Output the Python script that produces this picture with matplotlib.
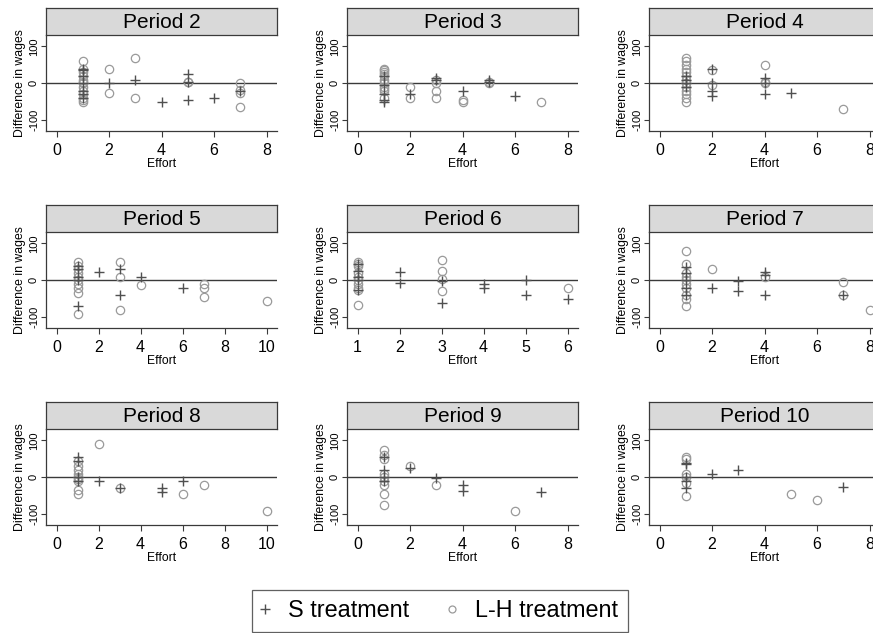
import matplotlib
matplotlib.use("Agg")
import matplotlib.pyplot as plt
from matplotlib.lines import Line2D

plt.rcParams['font.family'] = ['Liberation Sans', 'DejaVu Sans']

# (effort, difference in wages)
s2 = [(1, 40), (1, 35), (1, 20), (1, 0), (1, -20), (1, -30), (1, -40), (2, 0), (3, 10),
      (4, -50), (5, 25), (5, 5), (5, -45), (6, -40), (7, -20)]
lh2 = [(1, 60), (1, 40), (1, 30), (1, 20), (1, 10), (1, 5), (1, 0), (1, -10), (1, -20),
       (1, -30), (1, -40), (1, -45), (1, -50), (2, 40), (2, -25), (3, 70), (3, -40),
       (5, 5), (5, 3), (7, 0), (7, -18), (7, -25), (7, -65)]
s3 = [(1, 20), (1, -5), (1, -30), (1, -45), (1, -50), (2, -30), (3, 15), (3, 10),
      (4, -20), (5, 10), (5, 3), (6, -35)]
lh3 = [(1, 40), (1, 35), (1, 30), (1, 25), (1, 20), (1, 10), (1, 0), (1, -10), (1, -15),
       (1, -20), (1, -40), (2, -10), (2, -40), (3, 10), (3, 0), (3, -20), (3, -40),
       (4, -45), (4, -50), (5, 5), (5, 0), (7, -50)]
s4 = [(1, 20), (1, 10), (1, 0), (1, -10), (2, 40), (2, 0), (2, -20), (2, -35),
      (4, 15), (4, 0), (4, -30), (5, -25)]
lh4 = [(1, 70), (1, 60), (1, 50), (1, 40), (1, 30), (1, 20), (1, 10), (1, 0), (1, -10),
       (1, -20), (1, -30), (1, -40), (1, -50), (2, 35), (2, -5), (4, 50), (4, 5), (4, 0),
       (7, -70)]
s5 = [(1, 40), (1, 30), (1, 10), (1, 0), (1, -70), (2, 22), (3, 30), (3, -40), (4, 10),
      (6, -22)]
lh5 = [(1, 50), (1, 40), (1, 30), (1, 20), (1, 10), (1, 0), (1, -10), (1, -20), (1, -35),
       (1, -90), (3, 50), (3, 10), (3, -80), (4, -13), (7, -10), (7, -20), (7, -45),
       (10, -55)]
s6 = [(1, 45), (1, 25), (1, 10), (1, 0), (1, -25), (2, 22), (2, -8), (3, -2), (3, -60),
      (4, -10), (4, -20), (5, 0), (5, -40), (6, -50)]
lh6 = [(1, 50), (1, 45), (1, 40), (1, 20), (1, 10), (1, 0), (1, -10), (1, -20), (1, -25),
       (1, -68), (3, 55), (3, 25), (3, 5), (3, -30), (6, -20)]
s7 = [(1, 35), (1, 20), (1, 0), (1, -20), (1, -40), (2, -20), (3, -2), (3, -28),
      (4, 22), (4, 15), (4, -40), (7, -40)]
lh7 = [(1, 80), (1, 45), (1, 20), (1, 10), (1, 0), (1, -10), (1, -20), (1, -40), (1, -50),
       (1, -70), (2, 30), (4, 10), (7, -5), (7, -40), (8, -80)]
s8 = [(1, 55), (1, 45), (1, 0), (1, -10), (2, -10), (3, -30), (5, -28), (5, -40), (6, -10)]
lh8 = [(1, 45), (1, 30), (1, 20), (1, 10), (1, 0), (1, -5), (1, -10), (1, -35), (1, -45),
       (2, 90), (3, -30), (6, -45), (7, -20), (10, -90)]
s9 = [(1, 55), (1, 20), (1, 0), (1, -10), (2, 25), (3, -2), (4, -20), (4, -38), (7, -40)]
lh9 = [(1, 75), (1, 60), (1, 50), (1, 10), (1, 0), (1, -10), (1, -20), (1, -45), (1, -75),
       (2, 30), (3, -20), (6, -90)]
s10 = [(1, 40), (1, 35), (1, 0), (1, -10), (1, -30), (2, 10), (3, 20), (7, -25)]
lh10 = [(1, 55), (1, 50), (1, 10), (1, 0), (1, -15), (1, -50), (5, -45), (6, -60)]

periods = [2, 3, 4, 5, 6, 7, 8, 9, 10]
s_data = [s2, s3, s4, s5, s6, s7, s8, s9, s10]
lh_data = [lh2, lh3, lh4, lh5, lh6, lh7, lh8, lh9, lh10]
x_ticks = [[0, 2, 4, 6, 8], [0, 2, 4, 6, 8], [0, 2, 4, 6, 8],
           [0, 2, 4, 6, 8, 10], [1, 2, 3, 4, 5, 6], [0, 2, 4, 6, 8],
           [0, 2, 4, 6, 8, 10], [0, 2, 4, 6, 8], [0, 2, 4, 6, 8]]
y_ticks = [-100, 0, 100]
legend_labels = ['S treatment', 'L-H treatment']

W, H = 873, 633
S_COLOR = '#505050'
LH_COLOR = '#9a9a9a'
AX_COLOR = '#3a3a3a'


def rect(left, top, width, height):
    return [left / W, 1 - (top + height) / H, width / W, height / H]


fig = plt.figure(figsize=(W / 100, H / 100), dpi=100)

col_left = [46, 347, 649]
panel_w = 231
row_strip_top = [8, 205, 402]
strip_h = 27
plot_h = 96

for i, per in enumerate(periods):
    r, c = divmod(i, 3)
    left = col_left[c]
    top = row_strip_top[r] + strip_h

    ax = fig.add_axes(rect(left, top, panel_w, plot_h))
    sx, sy = zip(*s_data[i])
    lx, ly = zip(*lh_data[i])
    ax.axhline(0, color=AX_COLOR, lw=1.0, zorder=1)
    ax.plot(sx, sy, ls='none', marker='+', ms=6.5, mew=1.0, color=S_COLOR, zorder=3)
    ax.plot(lx, ly, ls='none', marker='o', ms=6, mew=0.9, mfc='none', mec=LH_COLOR,
            zorder=2)

    t = x_ticks[i]
    span = t[-1] - t[0]
    ax.set_xlim(t[0] - 0.05 * span, t[-1] + 0.05 * span)
    ax.set_ylim(-129, 131)
    ax.set_xticks(t)
    ax.set_yticks(y_ticks)
    ax.set_yticklabels([str(v) for v in y_ticks], rotation=90, va='center')
    ax.tick_params(axis='x', labelsize=11.5, length=4.5, width=0.8, color=AX_COLOR, pad=4)
    ax.tick_params(axis='y', labelsize=8, length=3.5, width=0.8, color=AX_COLOR, pad=1.5)
    for side in ['top', 'right']:
        ax.spines[side].set_visible(False)
    for side in ['left', 'bottom']:
        ax.spines[side].set_color(AX_COLOR)
        ax.spines[side].set_linewidth(0.9)
    ax.set_xlabel('Effort', fontsize=8.7, labelpad=0)
    ax.set_ylabel('Difference in wages', fontsize=8.8, labelpad=2)

    sax = fig.add_axes(rect(left, row_strip_top[r], panel_w, strip_h))
    sax.set_facecolor('#d9d9d9')
    sax.set_xticks([])
    sax.set_yticks([])
    for sp in sax.spines.values():
        sp.set_color(AX_COLOR)
        sp.set_linewidth(0.9)
    sax.text(0.5, 0.45, f'Period {per}', ha='center', va='center', fontsize=15,
             transform=sax.transAxes)

handles = [
    Line2D([], [], ls='none', marker='+', ms=7, mew=1.0, color=S_COLOR),
    Line2D([], [], ls='none', marker='o', ms=5, mew=0.9, mfc='none', mec=LH_COLOR),
]
leg = fig.legend(handles, legend_labels, loc='upper left',
                 bbox_to_anchor=(252 / W, 1 - 590 / H), ncol=2, fontsize=16.8,
                 frameon=True, fancybox=False, borderpad=0.4, handlelength=0.3,
                 handletextpad=0.84, columnspacing=1.7, borderaxespad=0)
leg.get_frame().set_edgecolor(AX_COLOR)
leg.get_frame().set_linewidth(0.9)

fig.savefig('out.png', dpi=100)
